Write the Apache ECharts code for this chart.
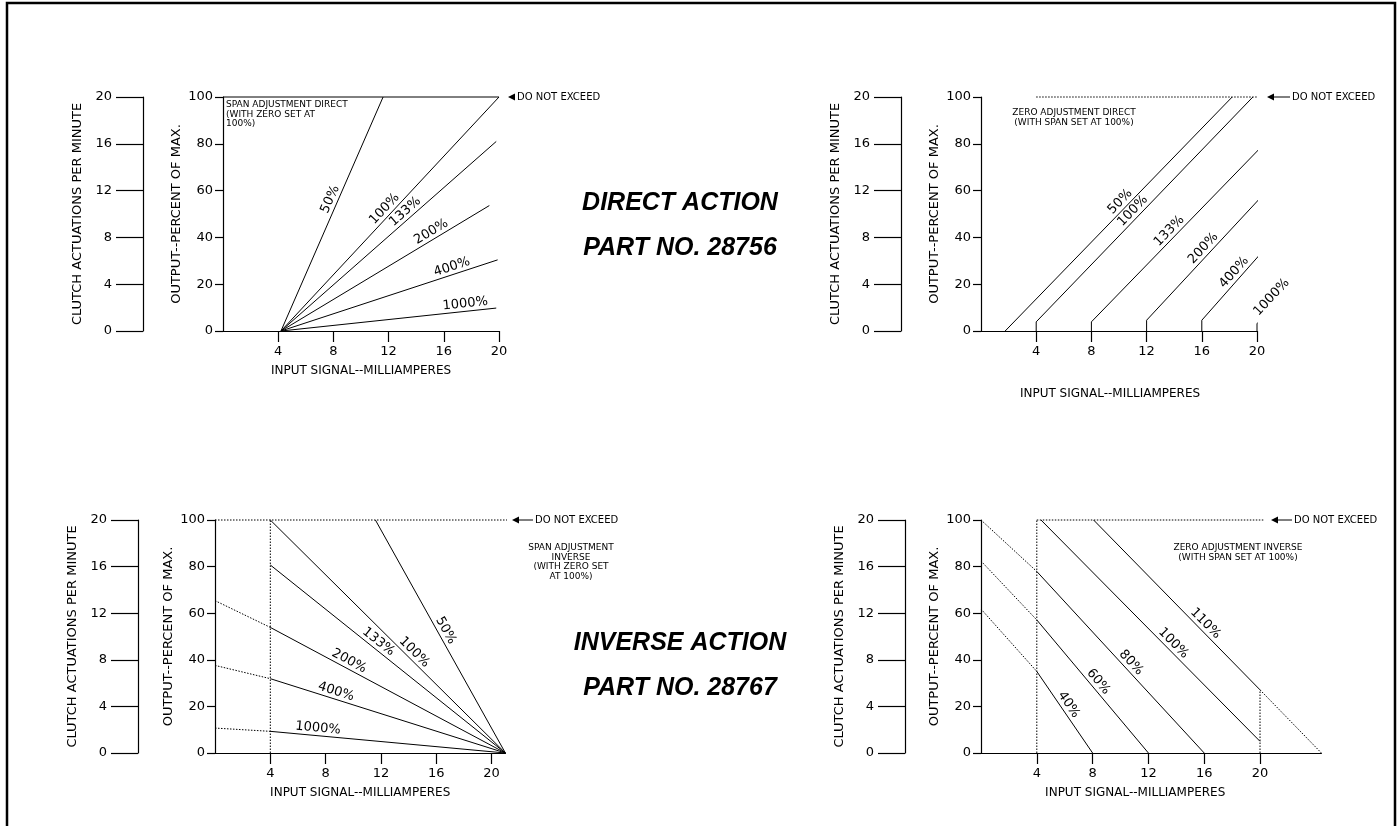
<!DOCTYPE html>
<html>
<head>
<meta charset="utf-8">
<script src="https://cdn.jsdelivr.net/npm/echarts@6/dist/echarts.min.js"></script>
<style>
  html, body { margin: 0; padding: 0; background: #fff; }
  #c { width: 1400px; height: 826px; }
</style>
</head>
<body>
<div id="c"></div>
<script>
// ---------- chart values ----------
const xTickValues = [4, 8, 12, 16, 20];          // mA ticks shown on every input axis

// Direct action, span adjustment (zero set at 100%): all lines leave 4 mA / 0 %
const spanDirLabels = ['50%', '100%', '133%', '200%', '400%', '1000%'];
const spanDirStart  = [4.2, 0];
const spanDirEndX   = [11.6, 20, 19.8, 19.3, 19.9, 19.8];
const spanDirEndY   = [100, 100, 81, 53.6, 30.4, 9.8];

// Direct action, zero adjustment (span set at 100%)
const zeroDirLabels = ['50%', '100%', '133%', '200%', '400%', '1000%'];
const zeroDirBaseX  = [1.75, 4, 8, 12, 16, 20];
const zeroDirRiseY  = [0, 3.9, 3.9, 4.6, 4.6, 3.1];
const zeroDirEndX   = [18.2, 19.7, 20.3, 21.0, 22.1, 24.4];
const zeroDirEndY   = [100, 100, 78.6, 61.7, 45.3, 30.7];

// Inverse action, span adjustment (zero set at 100%): all lines meet at 21 mA / 0 %
const spanInvLabels = ['50%', '100%', '133%', '200%', '400%', '1000%'];
const spanInvStartX = [11.6, 4, 4, 4, 4, 4];
const spanInvStartY = [100, 100, 80.7, 53.9, 31.9, 9.3];
const spanInvAxisY  = [null, null, null, 65.4, 37.6, 10.7];   // dotted run back to 0 mA
const spanInvEnd    = [21, 0];

// Inverse action, zero adjustment (span set at 100%)
const zeroInvLabels = ['40%', '60%', '80%', '100%', '110%'];
const zeroInvAxisY  = [61.8, 82.4, 100, null, null];           // dotted run back to 0 mA
const zeroInvStartX = [4, 4, 4, 4.3, 8.07];
const zeroInvStartY = [35, 57.1, 77.9, 100, 100];
const zeroInvEndX   = [8, 12, 16, 20, 20];
const zeroInvEndY   = [0, 0, 0, 5, 27.1];
const zeroInvTail   = [24.4, 0];                               // dotted run of the 110% line

// ---------- layout ----------
const FONT = '"DejaVu Sans", sans-serif';
const INK = '#000';
const boxes = [
  { left: 223, top: 97,  width: 276,   height: 234 },
  { left: 981, top: 97,  width: 276,   height: 234 },
  { left: 215, top: 520, width: 290.4, height: 233 },
  { left: 981, top: 520, width: 340.4, height: 233 }
];
const xMax = [20, 20, 21, 24.4];
const clutchOffset = [80, 80, 77, 76];
const xNameGap = [34, 57, 34, 34];
const xNamePad = [0, 18, 0, 32];
const X_TICK = 11, OUT_TICK = 8, CLUTCH_TICK = 27;

const chart = echarts.init(document.getElementById('c'), null, { renderer: 'canvas' });

const grid = boxes.map(b => Object.assign({ outerBoundsMode: 'none', containLabel: false }, b));

const xAxis = boxes.map((b, i) => ({
  type: 'value', gridIndex: i, min: 0, max: xMax[i], interval: 4,
  axisLine: { show: true, onZero: false, lineStyle: { color: INK, width: 1.2 } },
  axisTick: { show: true, length: X_TICK, customValues: xTickValues, lineStyle: { color: INK, width: 1.2 } },
  axisLabel: { show: true, customValues: xTickValues, color: INK, fontFamily: FONT, fontSize: 13, margin: X_TICK + 3 },
  splitLine: { show: false },
  name: 'INPUT SIGNAL--MILLIAMPERES', nameLocation: 'middle', nameGap: xNameGap[i],
  nameMoveOverlap: false,
  nameTextStyle: { color: INK, fontFamily: FONT, fontSize: 12, padding: [0, xNamePad[i], 0, 0] }
}));

const outputAxes = boxes.map((b, i) => ({
  type: 'value', gridIndex: i, min: 0, max: 100, interval: 20, position: 'left',
  axisLine: { show: true, onZero: false, lineStyle: { color: INK, width: 1.2 } },
  axisTick: { show: true, length: OUT_TICK, lineStyle: { color: INK, width: 1.2 } },
  axisLabel: { color: INK, fontFamily: FONT, fontSize: 13, margin: OUT_TICK + 2 },
  splitLine: { show: false },
  name: 'OUTPUT--PERCENT OF MAX.', nameLocation: 'middle', nameRotate: 90, nameGap: 40,
  nameMoveOverlap: false,
  nameTextStyle: { color: INK, fontFamily: FONT, fontSize: 13 }
}));

const clutchAxes = boxes.map((b, i) => ({
  type: 'value', gridIndex: i, min: 0, max: 20, interval: 4, position: 'left', offset: clutchOffset[i],
  axisLine: { show: true, onZero: false, lineStyle: { color: INK, width: 1.2 } },
  axisTick: { show: true, length: CLUTCH_TICK, lineStyle: { color: INK, width: 1.2 } },
  axisLabel: { color: INK, fontFamily: FONT, fontSize: 13, margin: CLUTCH_TICK + 4 },
  splitLine: { show: false },
  name: 'CLUTCH ACTUATIONS PER MINUTE', nameLocation: 'middle', nameRotate: 90, nameGap: 59,
  nameMoveOverlap: false,
  nameTextStyle: { color: INK, fontFamily: FONT, fontSize: 13 }
}));

// ---------- line series ----------
const series = [];
function seg(g, pts, dotted) {
  series.push({
    type: 'line', xAxisIndex: g, yAxisIndex: g, data: pts,
    symbol: 'none', clip: false, silent: true, animation: false,
    lineStyle: { color: INK, width: 1, type: dotted ? [1.5, 1.5] : 'solid' }
  });
}

// limit lines at 100 %
seg(0, [[0, 100], [20, 100]], false);
seg(1, [[4, 100], [20.4, 100]], true);
seg(2, [[0, 100], [21.4, 100]], true);
seg(3, [[4, 100], [20.3, 100]], true);
// 4 mA / 20 mA guides on the inverse charts
seg(2, [[4, 0], [4, 100]], true);
seg(3, [[4, 0], [4, 100]], true);
seg(3, [[20, 0], [20, zeroInvEndY[4]]], true);

const labelSegs = [];   // [grid, from, to, text, fraction]

const spanDirT = [0.55, 0.5, 0.6, 0.74, 0.8, 0.86];
spanDirLabels.forEach((t, k) => {
  const a = spanDirStart, b = [spanDirEndX[k], spanDirEndY[k]];
  seg(0, [a, b], false);
  labelSegs.push([0, a, b, t, spanDirT[k]]);
});

const zeroDirT = [0.53, 0.47, 0.49, 0.5, 0.45, 0.33];
zeroDirLabels.forEach((t, k) => {
  const base = [zeroDirBaseX[k], 0], knee = [zeroDirBaseX[k], zeroDirRiseY[k]];
  const b = [zeroDirEndX[k], zeroDirEndY[k]];
  seg(1, [base, knee, b], false);
  labelSegs.push([1, knee, b, t, zeroDirT[k]]);
});

const spanInvT = [0.49, 0.59, 0.44, 0.32, 0.27, 0.2];
spanInvLabels.forEach((t, k) => {
  const a = [spanInvStartX[k], spanInvStartY[k]];
  seg(2, [a, spanInvEnd], false);
  if (spanInvAxisY[k] !== null) seg(2, [[0, spanInvAxisY[k]], a], true);
  labelSegs.push([2, a, spanInvEnd, t, spanInvT[k]]);
});

const zeroInvT = [0.46, 0.5, 0.53, 0.58, 0.64];
zeroInvLabels.forEach((t, k) => {
  const a = [zeroInvStartX[k], zeroInvStartY[k]], b = [zeroInvEndX[k], zeroInvEndY[k]];
  seg(3, [a, b], false);
  if (zeroInvAxisY[k] !== null) seg(3, [[0, zeroInvAxisY[k]], a], true);
  labelSegs.push([3, a, b, t, zeroInvT[k]]);
});
seg(3, [[zeroInvEndX[4], zeroInvEndY[4]], zeroInvTail], true);

chart.setOption({
  backgroundColor: '#fff',
  animation: false,
  grid: grid,
  xAxis: xAxis,
  yAxis: outputAxes.concat(clutchAxes),
  series: series
});

// ---------- annotations ----------
function px(g, p) { return chart.convertToPixel({ xAxisIndex: g, yAxisIndex: g }, p); }

const graphic = [];
// page frame
graphic.push({ type: 'polyline', silent: true,
  shape: { points: [[7, 830], [7, 3], [1395, 3], [1395, 830]] },
  style: { stroke: INK, lineWidth: 2.5, fill: null } });

// span / zero percentages along each line
labelSegs.forEach(([g, a, b, text, t]) => {
  const A = px(g, a), B = px(g, b);
  const dx = B[0] - A[0], dy = B[1] - A[1];
  graphic.push({ type: 'text', silent: true,
    x: A[0] + t * dx, y: A[1] + t * dy, rotation: Math.atan2(-dy, dx),
    style: { text: text, x: 0, y: -1, align: 'center', verticalAlign: 'bottom',
             font: '13px ' + FONT, fill: INK } });
});

// "do not exceed" pointers
function pointer(tipX, y, shaft, textX) {
  graphic.push({ type: 'polygon', silent: true,
    shape: { points: [[tipX, y], [tipX + 7, y - 3.5], [tipX + 7, y + 3.5]] }, style: { fill: INK } });
  if (shaft) graphic.push({ type: 'line', silent: true,
    shape: { x1: tipX + 7, y1: y, x2: textX - 2, y2: y }, style: { stroke: INK, lineWidth: 1 } });
  graphic.push({ type: 'text', silent: true, x: textX, y: y,
    style: { text: 'DO NOT EXCEED', align: 'left', verticalAlign: 'middle', font: '10px ' + FONT, fill: INK } });
}
pointer(508, 97, false, 517);
pointer(1267, 97, true, 1292);
pointer(512, 520, true, 535);
pointer(1271, 520, true, 1294);

function note(x, y, text, align) {
  graphic.push({ type: 'text', silent: true, x: x, y: y,
    style: { text: text, align: align, verticalAlign: 'top', font: '9px ' + FONT, lineHeight: 9.5, fill: INK } });
}
note(226, 100, 'SPAN ADJUSTMENT DIRECT\n(WITH ZERO SET AT\n100%)', 'left');
note(1074, 108, 'ZERO ADJUSTMENT DIRECT\n(WITH SPAN SET AT 100%)', 'center');
note(571, 543, 'SPAN ADJUSTMENT\nINVERSE\n(WITH ZERO SET\nAT 100%)', 'center');
note(1238, 543, 'ZERO ADJUSTMENT INVERSE\n(WITH SPAN SET AT 100%)', 'center');

// part titles
function title(y, text) {
  graphic.push({ type: 'text', silent: true, x: 680, y: y,
    style: { text: text, align: 'center', verticalAlign: 'middle',
             font: 'italic bold 25px "Liberation Sans", Arial, sans-serif', fill: INK } });
}
title(203, 'DIRECT ACTION');
title(248, 'PART NO. 28756');
title(643, 'INVERSE ACTION');
title(688, 'PART NO. 28767');

chart.setOption({ graphic: graphic });
</script>
</body>
</html>
